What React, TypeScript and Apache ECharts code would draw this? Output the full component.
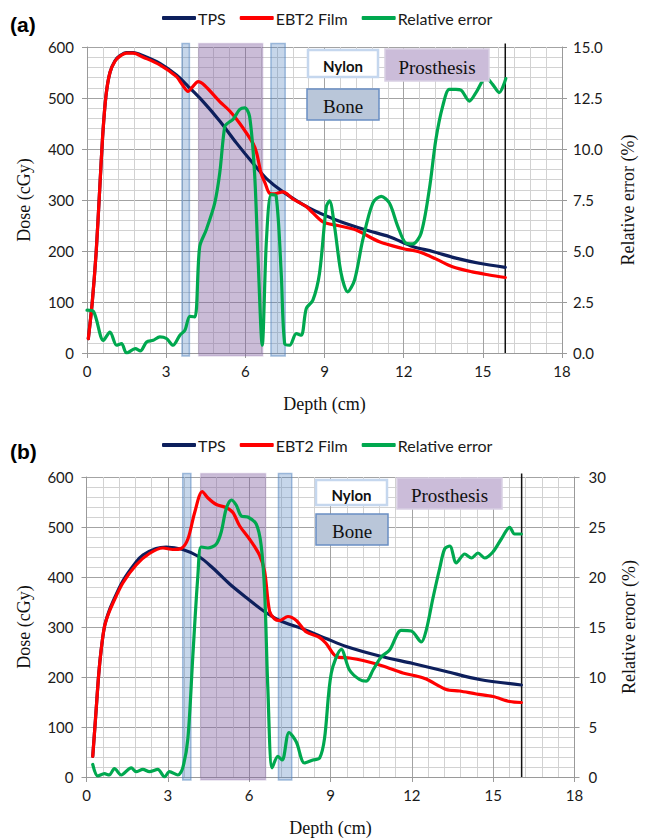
import React, { useEffect, useRef } from "react";
import * as echarts from "echarts";

// Depth (cm) / dose (cGy) profiles, panel (a)
const TPS_A: [number, number][] = [
  [0.05, 28], [0.2, 100], [0.35, 200], [0.48, 320], [0.6, 430], [0.72, 505], [0.87, 550],
  [1.06, 573], [1.25, 583], [1.5, 589], [1.75, 589], [2.13, 583], [2.76, 568],
  [3.39, 545], [3.83, 523], [4.4, 493], [5.03, 455], [5.66, 412], [6.29, 372], [6.8, 342],
  [7.43, 316], [8.43, 284], [9.44, 261], [10.58, 241], [11.46, 228], [12.34, 209], [13.1, 199],
  [13.98, 186], [14.86, 176], [15.85, 168],
];
const EBT2_A: [number, number][] = [
  [0.05, 28], [0.2, 100], [0.35, 200], [0.48, 320], [0.6, 430], [0.72, 505], [0.87, 550],
  [1.06, 572], [1.25, 582], [1.5, 588], [1.75, 588], [2.13, 580], [2.76, 565],
  [3.39, 542], [3.6, 527], [3.83, 513], [4.0, 522], [4.21, 532], [4.45, 525], [5.03, 493],
  [5.4, 475], [5.79, 450], [6.29, 411], [6.43, 392], [6.6, 352], [6.75, 333], [6.92, 313],
  [7.1, 312], [7.43, 316], [7.8, 302], [8.31, 287], [8.94, 257], [9.5, 250], [10.2, 241],
  [11.08, 218], [11.96, 205], [12.6, 198], [13.2, 185], [13.85, 169], [14.6, 159],
  [15.24, 153], [15.85, 148],
];
// Relative error (%) between the two, panel (a)
const ERR_A: [number, number][] = [
  [0, 2.1], [0.25, 2.03], [0.62, 0.62], [0.87, 1.03], [1.12, 0.38], [1.31, 0.46], [1.5, 0.0],
  [1.83, 0.21], [2.02, 0.1], [2.26, 0.54], [2.51, 0.62], [2.76, 0.79], [3.01, 0.71],
  [3.26, 0.38], [3.52, 0.87], [3.71, 1.12], [3.9, 1.8], [4.09, 1.77], [4.27, 5.21],
  [4.52, 6.04], [4.84, 7.35], [5.03, 8.82], [5.22, 11.1], [5.35, 11.28], [5.53, 11.45],
  [5.79, 11.94], [5.98, 12.02], [6.16, 11.6], [6.35, 8.82], [6.48, 4.72], [6.64, 0.38],
  [6.8, 5.54], [6.98, 7.76], [7.17, 7.68], [7.36, 3.9], [7.49, 0.46], [7.68, 0.38],
  [7.93, 0.95], [8.12, 0.87], [8.31, 2.18], [8.56, 2.59], [8.81, 3.9], [9.07, 7.18],
  [9.19, 7.46], [9.38, 6.2], [9.63, 3.9], [9.88, 3.0], [10.14, 3.58], [10.45, 5.54],
  [10.83, 7.35], [11.15, 7.68], [11.46, 7.35], [11.78, 6.2], [12.09, 5.38], [12.34, 5.35],
  [12.66, 5.87], [12.97, 8.0], [13.22, 10.46], [13.48, 12.1], [13.73, 12.92], [13.98, 12.92],
  [14.17, 12.89], [14.49, 12.35], [14.74, 12.76], [15.12, 13.5], [15.37, 13.17],
  [15.62, 12.76], [15.87, 13.45],
];

// Panel (b)
const TPS_B: [number, number][] = [
  [0.23, 41], [0.35, 130], [0.45, 205], [0.54, 254], [0.66, 300], [0.8, 327], [0.97, 350],
  [1.34, 392], [1.83, 430], [2.08, 444], [2.57, 457], [2.94, 460], [3.55, 455], [4.17, 440],
  [4.66, 418], [5.28, 386], [5.89, 359], [6.51, 333], [7.12, 313], [7.98, 296], [8.84, 277],
  [9.58, 261], [10.81, 242], [12.04, 227], [13.27, 211], [14.5, 195], [16.04, 184],
];
const EBT2_B: [number, number][] = [
  [0.23, 41], [0.35, 130], [0.45, 205], [0.54, 254], [0.66, 300], [0.8, 325], [0.97, 347],
  [1.34, 388], [1.83, 424], [2.32, 447], [2.82, 458], [3.18, 455], [3.49, 457], [3.74, 476],
  [3.99, 529], [4.27, 571], [4.48, 558], [4.79, 545], [5.15, 539], [5.4, 529], [5.65, 502],
  [6.01, 476], [6.38, 444], [6.57, 411], [6.75, 332], [6.94, 316], [7.12, 313], [7.43, 321],
  [7.74, 313], [8.11, 290], [8.6, 279], [8.84, 267], [9.21, 241], [9.7, 238], [10.2, 233],
  [10.93, 222], [11.67, 208], [12.17, 202], [12.53, 196], [13.27, 175], [13.76, 172],
  [14.38, 166], [14.99, 161], [15.61, 151], [16.04, 149],
];
const ERR_B: [number, number][] = [
  [0.23, 1.25], [0.42, 0.1], [0.66, 0.33], [0.84, 0.2], [1.03, 0.85], [1.28, 0.2], [1.65, 0.92],
  [1.83, 0.53], [2.08, 0.76], [2.32, 0.53], [2.63, 0.76], [2.88, 0.01], [3.06, 0.53],
  [3.37, 0.2], [3.55, 0.92], [3.74, 3.86], [3.92, 12.0], [4.11, 20.2], [4.23, 23.0],
  [4.48, 22.9], [4.79, 23.3], [4.97, 24.5], [5.15, 26.8], [5.34, 27.7], [5.52, 27.2],
  [5.71, 26.1], [5.95, 26.0], [6.26, 25.3], [6.44, 23.2], [6.57, 18.6], [6.69, 8.8],
  [6.85, 0.92], [7.06, 2.06], [7.22, 1.7], [7.47, 4.45], [7.74, 3.5], [8.04, 1.4], [8.35, 1.7],
  [8.6, 1.9], [8.78, 3.86], [9.03, 10.4], [9.4, 12.76], [9.7, 10.7], [10.07, 9.75],
  [10.32, 9.59], [10.57, 10.7], [10.87, 12.0], [11.18, 12.7], [11.61, 14.66], [11.98, 14.6],
  [12.35, 13.5], [12.53, 14.66], [12.78, 17.9], [13.03, 20.9], [13.21, 22.8], [13.4, 23.1],
  [13.64, 21.4], [13.95, 22.3], [14.2, 21.9], [14.44, 22.4], [14.69, 21.9], [14.99, 22.5],
  [15.3, 23.8], [15.61, 24.97], [15.79, 24.3], [16.04, 24.3],
];

// Phantom inserts along depth: [start, end, material] (0 = bone, 1 = prosthesis),
// plus the end-of-phantom marker (material 2)
const INSERTS_A: number[][] = [[3.6, 3.88, 0], [4.23, 6.66, 1], [6.97, 7.51, 0], [15.85, 15.85, 2]];
const INSERTS_B: number[][] = [[3.55, 3.85, 0], [4.21, 6.61, 1], [7.08, 7.57, 0], [16.05, 16.05, 2]];

const SERIES_NAMES = ["TPS", "EBT2 Film", "Relative error"];
const DEPTH_RANGE = [0, 18];
const DOSE_RANGE = [0, 600];
const ERR_MAX_A = 15;
const ERR_MAX_B = 30;

const COLORS = { tps: "#0d1f5c", ebt2: "#ff0000", err: "#00a84f" };
const SANS = "Lato, 'Open Sans', sans-serif";
const SERIF = "'Liberation Serif', 'DejaVu Serif', serif";
const GRID_MAJOR = "#a3a3a3";
const GRID_MINOR = "#d2d2d2";

function renderInserts(_params: any, api: any) {
  const x0 = api.value(0);
  const x1 = api.value(1);
  const kind = api.value(2);
  if (kind === 2) {
    const t = api.coord([x0, 607]);
    const b = api.coord([x0, 0]);
    return {
      type: "line",
      shape: { x1: t[0], y1: t[1], x2: b[0], y2: b[1] },
      style: { stroke: "#111", lineWidth: 1.5 },
    };
  }
  const tl = api.coord([x0, 607]);
  const br = api.coord([x1, -6]);
  const bone = kind === 0;
  return {
    type: "rect",
    shape: { x: tl[0], y: tl[1], width: br[0] - tl[0], height: br[1] - tl[1] },
    style: bone
      ? { fill: "rgba(79,129,189,0.32)", stroke: "rgba(79,129,189,0.5)", lineWidth: 1.5 }
      : { fill: "rgba(128,96,160,0.42)", stroke: "rgba(128,96,160,0.2)", lineWidth: 1.5 },
  };
}

function xAxisFor(gridIndex: number) {
  return {
    type: "value",
    gridIndex,
    min: DEPTH_RANGE[0],
    max: DEPTH_RANGE[1],
    interval: 3,
    name: "Depth (cm)",
    nameLocation: "middle",
    nameGap: 42,
    nameTextStyle: { fontFamily: SERIF, fontSize: 18, color: "#111" },
    axisLine: { show: true, lineStyle: { color: "#9a9a9a", width: 1 } },
    axisTick: { show: true, length: 5, lineStyle: { color: "#9a9a9a" } },
    axisLabel: { margin: 10, fontFamily: SANS, fontSize: 15, color: "#1a1a1a" },
    splitLine: { show: true, lineStyle: { color: GRID_MAJOR, width: 1 } },
    minorTick: { show: false, splitNumber: 5 },
    minorSplitLine: { show: true, lineStyle: { color: GRID_MINOR, width: 1 } },
  };
}

function doseAxisFor(gridIndex: number) {
  return {
    type: "value",
    gridIndex,
    position: "left",
    min: DOSE_RANGE[0],
    max: DOSE_RANGE[1],
    interval: 100,
    name: "Dose (cGy)",
    nameLocation: "middle",
    nameRotate: 90,
    nameGap: 54,
    nameTextStyle: { fontFamily: SERIF, fontSize: 18, color: "#111" },
    axisLine: { show: true, lineStyle: { color: "#9a9a9a", width: 1 } },
    axisTick: { show: true, length: 5, lineStyle: { color: "#9a9a9a" } },
    axisLabel: { margin: 13, fontFamily: SANS, fontSize: 15, color: "#1a1a1a" },
    splitLine: { show: true, lineStyle: { color: GRID_MAJOR, width: 1 } },
    minorTick: { show: false, splitNumber: 5 },
    minorSplitLine: { show: true, lineStyle: { color: GRID_MINOR, width: 1 } },
  };
}

function errAxisFor(gridIndex: number, max: number, name: string, decimals: number, gap: number, margin: number) {
  return {
    type: "value",
    gridIndex,
    position: "right",
    min: 0,
    max,
    interval: max / 6,
    name,
    nameLocation: "middle",
    nameRotate: 90,
    nameGap: gap,
    nameTextStyle: { fontFamily: SERIF, fontSize: 18, color: "#111" },
    axisLine: { show: true, lineStyle: { color: "#9a9a9a", width: 1 } },
    axisTick: { show: true, length: 5, lineStyle: { color: "#9a9a9a" } },
    axisLabel: {
      margin,
      fontFamily: SANS,
      fontSize: 15,
      color: "#1a1a1a",
      formatter: (v: number) => v.toFixed(decimals),
    },
    splitLine: { show: false },
  };
}

function lineSeries(name: string, data: [number, number][], color: string, xAxisIndex: number, yAxisIndex: number) {
  return {
    type: "line",
    name,
    data,
    xAxisIndex,
    yAxisIndex,
    color,
    symbol: "none",
    showSymbol: false,
    smooth: 0.3,
    z: 3,
    lineStyle: { color, width: 3.2, cap: "round", join: "round" },
    itemStyle: { color },
  };
}

function legendAt(top: number) {
  return {
    top,
    left: 157,
    data: SERIES_NAMES,
    icon: "roundRect",
    itemWidth: 34,
    itemHeight: 4,
    itemGap: 14,
    textStyle: { fontFamily: SANS, fontSize: 16, color: "#1a1a1a", padding: [0, 0, 0, -3] },
    selectedMode: false,
  };
}

function labelBox(x: number, y: number, w: number, h: number, text: string, kind: string) {
  const styles: Record<string, any> = {
    nylon: { fill: "#ffffff", stroke: "#c5d7ee", lineWidth: 2.5 },
    prosthesis: { fill: "#cbbcd9", stroke: "#d9cfe3", lineWidth: 1.5 },
    bone: { fill: "#b9c6d9", stroke: "#6a8fc4", lineWidth: 1.5 },
  };
  const font =
    kind === "nylon"
      ? { fontFamily: SANS, fontWeight: "bold", fontSize: 15 }
      : { fontFamily: SERIF, fontSize: 19 };
  return [
    { type: "rect", shape: { x, y, width: w, height: h }, style: styles[kind], z: 10 },
    {
      type: "text",
      x: x + w / 2,
      y: y + h / 2 + 2,
      style: { text, ...font, fill: "#111", align: "center", verticalAlign: "middle" },
      z: 11,
    },
  ];
}

export default function App() {
  const ref = useRef<HTMLDivElement>(null);

  useEffect(() => {
    if (!ref.current) return;
    const chart = echarts.init(ref.current, undefined, { renderer: "svg" });

    const option: any = {
      animation: false,
      backgroundColor: "#ffffff",
      grid: [
        { left: 87, top: 47, width: 475, height: 306 },
        { left: 86.5, top: 477, width: 488, height: 306 },
      ],
      legend: [legendAt(5), legendAt(432)],
      xAxis: [xAxisFor(0), xAxisFor(1)],
      yAxis: [
        doseAxisFor(0),
        errAxisFor(0, ERR_MAX_A, "Relative error (%)", 1, 57, 11),
        doseAxisFor(1),
        errAxisFor(1, ERR_MAX_B, "Relative eroor (%)", 0, 45, 14),
      ],
      series: [
        {
          type: "custom",
          name: "inserts-a",
          xAxisIndex: 0,
          yAxisIndex: 0,
          data: INSERTS_A,
          renderItem: renderInserts,
          clip: false,
          silent: true,
          z: 1,
        },
        {
          type: "custom",
          name: "inserts-b",
          xAxisIndex: 1,
          yAxisIndex: 2,
          data: INSERTS_B,
          renderItem: renderInserts,
          clip: false,
          silent: true,
          z: 1,
        },
        lineSeries(SERIES_NAMES[0], TPS_A, COLORS.tps, 0, 0),
        lineSeries(SERIES_NAMES[1], EBT2_A, COLORS.ebt2, 0, 0),
        lineSeries(SERIES_NAMES[2], ERR_A, COLORS.err, 0, 1),
        lineSeries(SERIES_NAMES[0], TPS_B, COLORS.tps, 1, 2),
        lineSeries(SERIES_NAMES[1], EBT2_B, COLORS.ebt2, 1, 2),
        lineSeries(SERIES_NAMES[2], ERR_B, COLORS.err, 1, 3),
      ],
      graphic: [
        {
          type: "text",
          left: 10,
          top: 14,
          style: { text: "(a)", fontFamily: "'Liberation Sans', Arial, sans-serif", fontWeight: "bold", fontSize: 21, fill: "#000" },
        },
        {
          type: "text",
          left: 10,
          top: 441,
          style: { text: "(b)", fontFamily: "'Liberation Sans', Arial, sans-serif", fontWeight: "bold", fontSize: 21, fill: "#000" },
        },
        ...labelBox(308, 50, 70, 27, "Nylon", "nylon"),
        ...labelBox(385, 49, 104, 32, "Prosthesis", "prosthesis"),
        ...labelBox(307, 89, 72, 31, "Bone", "bone"),
        ...labelBox(316, 480, 71, 25, "Nylon", "nylon"),
        ...labelBox(397, 478, 105, 31, "Prosthesis", "prosthesis"),
        ...labelBox(316, 514, 72, 31, "Bone", "bone"),
      ],
    };

    chart.setOption(option);
    return () => chart.dispose();
  }, []);

  return (
    <div style={{ position: "absolute", left: 0, top: 0, width: 646, height: 838, background: "#fff" }}>
      <div ref={ref} style={{ width: 646, height: 838 }} />
    </div>
  );
}
